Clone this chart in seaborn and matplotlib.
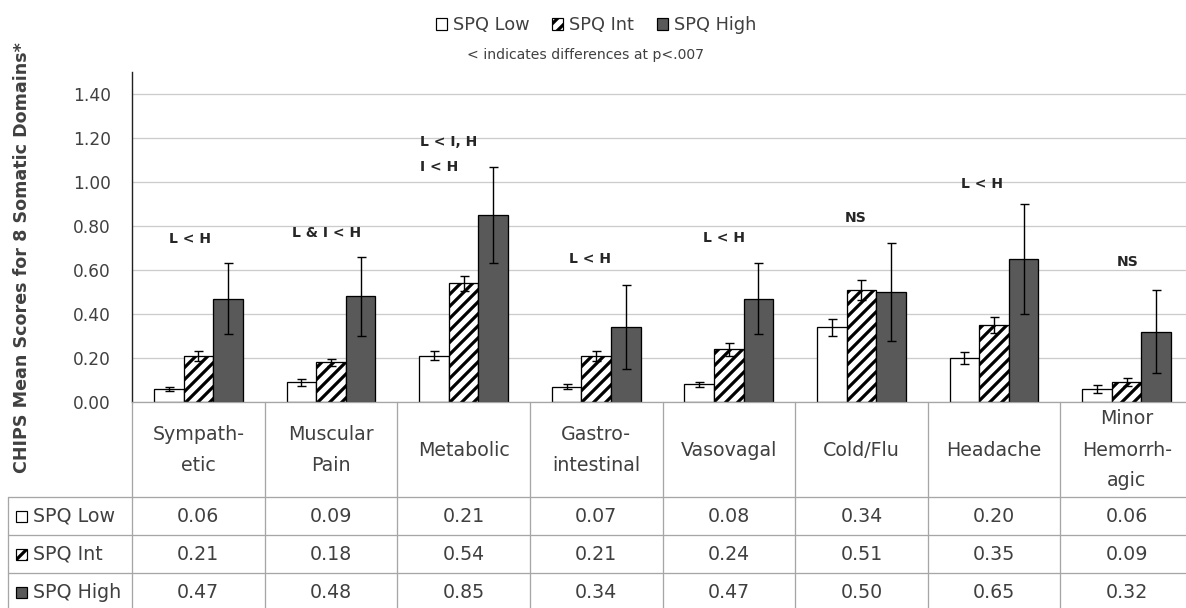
import numpy as np
import pandas as pd
import matplotlib
matplotlib.use("Agg")
import matplotlib.pyplot as plt
import seaborn as sns
from matplotlib.patches import Rectangle

# ---------------- data ----------------
categories = ["Sympath-\netic", "Muscular\nPain", "Metabolic", "Gastro-\nintestinal",
              "Vasovagal", "Cold/Flu", "Headache", "Minor\nHemorrh-\nagic"]
groups = ["SPQ Low", "SPQ Int", "SPQ High"]
spq_low = [0.06, 0.09, 0.21, 0.07, 0.08, 0.34, 0.20, 0.06]
spq_int = [0.21, 0.18, 0.54, 0.21, 0.24, 0.51, 0.35, 0.09]
spq_high = [0.47, 0.48, 0.85, 0.34, 0.47, 0.50, 0.65, 0.32]
err_low = [0.010, 0.016, 0.021, 0.011, 0.013, 0.038, 0.029, 0.017]
err_int = [0.024, 0.017, 0.034, 0.024, 0.029, 0.045, 0.038, 0.018]
err_high = [0.160, 0.180, 0.216, 0.190, 0.163, 0.222, 0.250, 0.190]
annotations = ["L < H", "L & I < H", "L < I, H\nI < H", "L < H", "L < H", "NS", "L < H", "NS"]
yticks = [0.00, 0.20, 0.40, 0.60, 0.80, 1.00, 1.20, 1.40]
ylabel = "CHIPS Mean Scores for 8 Somatic Domains*"
subtitle = "< indicates differences at p<.007"

values = [spq_low, spq_int, spq_high]
errors = [err_low, err_int, err_high]

df = pd.DataFrame({
    "category": [c for g in groups for c in categories],
    "group": [g for g in groups for _ in categories],
    "value": [v for vals in values for v in vals],
})

# ---------------- style ----------------
sns.set_style("white")
plt.rcParams["font.family"] = ["DejaVu Sans"]
plt.rcParams["hatch.linewidth"] = 3.2

W, H = 1186, 608
fig = plt.figure(figsize=(W / 72, H / 72), dpi=72)
fig.patch.set_facecolor("white")

TXT = "#404040"
fill = {"SPQ Low": "white", "SPQ Int": "white", "SPQ High": "#595959"}
hatch = {"SPQ Low": "", "SPQ Int": "//", "SPQ High": ""}

ax = fig.add_axes([132 / W, (H - 402) / H, 1061 / W, 330 / H])
sns.barplot(data=df, x="category", y="value", hue="group", order=categories,
            hue_order=groups, palette=fill, saturation=1, width=0.67,
            edgecolor="black", linewidth=1.3, errorbar=None, legend=False, ax=ax)

for cont, g, errs in zip(ax.containers, groups, errors):
    xs, ys = [], []
    for p in cont:
        p.set_hatch(hatch[g])
        xs.append(p.get_x() + p.get_width() / 2)
        ys.append(p.get_height())
    ax.errorbar(xs, ys, yerr=errs, fmt="none", ecolor="black", elinewidth=1.4,
                capsize=4.5, capthick=1.4, zorder=5)

ax.set_xlim(-0.5, 7.5)
ax.set_ylim(0, 1.5)
ax.set_yticks(yticks)
ax.set_yticklabels([f"{t:.2f}" for t in yticks])
ax.set_xticks([])
ax.set_xlabel("")
ax.set_ylabel("")
ax.yaxis.grid(True, color="#cccccc", lw=1.3)
ax.set_axisbelow(True)
for s in ["top", "right", "bottom"]:
    ax.spines[s].set_visible(False)
ax.spines["left"].set_color("#202020")
ax.spines["left"].set_linewidth(1.4)
ax.tick_params(axis="y", length=0, pad=21, labelsize=17, labelcolor=TXT)

# annotations (layout positions in data coordinates)
ann_pos = [(-0.06, 0.741, "center"), (0.97, 0.768, "center"), (1.672, 1.125, "left"),
           (2.954, 0.650, "center"), (3.961, 0.745, "center"), (4.96, 0.836, "center"),
           (5.91, 0.991, "center"), (7.004, 0.636, "center")]
for txt, (x, y, ha) in zip(annotations, ann_pos):
    ax.text(x, y, txt, ha=ha, va="center", fontsize=14, fontweight="bold",
            color="#262626", linespacing=2.0, multialignment="left")

# ---------------- data table ----------------
tab = fig.add_axes([132 / W, 0, 1061 / W, (H - 402) / H])
tab.set_xlim(-0.5, 7.5)
tab.set_ylim(H, 402)
tab.axis("off")


def dx(px):
    return (px - 132) / 132.6 - 0.5


LC = "#a6a6a6"
LW = 1.3
rows = [402, 497, 535, 573, 611]
tab.plot([dx(132), 7.5], [402, 402], color=LC, lw=LW, clip_on=False)
for r in rows[1:]:
    tab.plot([dx(8), 7.5], [r, r], color=LC, lw=LW, clip_on=False)
tab.plot([dx(8), dx(8)], [497, 611], color=LC, lw=LW, clip_on=False)
for k in range(9):
    tab.plot([k - 0.5, k - 0.5], [402, 611], color=LC, lw=LW, clip_on=False)

for i, c in enumerate(categories):
    tab.text(i, 450, c, ha="center", va="center", fontsize=19, color=TXT,
             linespacing=1.8)

for j, (g, vals) in enumerate(zip(groups, values)):
    yc = (rows[j + 1] + rows[j + 2]) / 2
    tab.add_patch(Rectangle((dx(16), yc + 5.5), dx(27) - dx(16), -11,
                            facecolor=fill[g], edgecolor="black", hatch=hatch[g],
                            lw=1.2, clip_on=False))
    tab.text(dx(33), yc, g, ha="left", va="center", fontsize=19, color=TXT)
    for i, v in enumerate(vals):
        tab.text(i, yc, f"{v:.2f}", ha="center", va="center", fontsize=19, color=TXT)

# ---------------- legend, subtitle, y label ----------------
handles = [Rectangle((0, 0), 1, 1, facecolor=fill[g], edgecolor="black",
                     hatch=hatch[g], lw=1.2) for g in groups]
fig.legend(handles, groups, loc="center", bbox_to_anchor=(596 / W, 1 - 25 / H),
           ncol=3, frameon=False, fontsize=17.8, handlelength=0.62, handleheight=0.62,
           handletextpad=0.33, columnspacing=1.28, labelcolor=TXT)
fig.text(586 / W, 1 - 55 / H, subtitle, ha="center", va="center", fontsize=14, color=TXT)
fig.text(22 / W, 1 - 258 / H, ylabel, rotation=90, ha="center", va="center",
         fontsize=17.5, fontweight="bold", color=TXT)

fig.savefig("out.png", dpi=72, facecolor="white")
